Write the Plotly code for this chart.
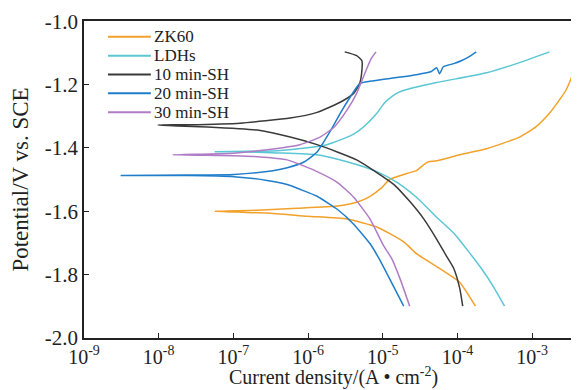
import plotly.graph_objects as go

# ---- data: log10 of current density (A/cm^2) and potential (V vs. SCE) ----
series_names = ["ZK60", "LDHs", "10 min-SH", "20 min-SH", "30 min-SH"]
series_colors = ["#F2A12B", "#5BC6D4", "#3A3A3A", "#1F7DCA", "#B07CC6"]

zk60_logi = [-3.76, -3.97, -4.28, -4.55, -4.72, -5.08, -5.48, -6.01, -6.55, -6.95, -7.25,
             -6.68, -6.15, -5.61, -5.35, -5.17, -5.01, -4.91, -4.68, -4.55, -4.45, -4.39,
             -4.28, -3.97, -3.61, -3.17, -2.95, -2.77, -2.64, -2.55, -2.45, -2.36]
zk60_E = [-1.900, -1.825, -1.775, -1.734, -1.697, -1.650, -1.625, -1.616, -1.606, -1.603, -1.600,
          -1.597, -1.591, -1.584, -1.572, -1.553, -1.525, -1.500, -1.481, -1.472, -1.453, -1.444,
          -1.441, -1.422, -1.403, -1.366, -1.334, -1.291, -1.250, -1.219, -1.163, -1.097]

ldhs_logi = [-3.37, -3.52, -3.68, -4.04, -4.28, -4.55, -4.81, -5.08, -5.48, -5.88, -6.41, -6.95, -7.25,
             -6.81, -6.41, -6.01, -5.75, -5.57, -5.41, -5.31, -5.19, -5.08, -4.97, -4.88, -4.79,
             -4.68, -4.28, -3.61, -3.17, -2.77]
ldhs_E = [-1.900, -1.838, -1.781, -1.672, -1.619, -1.556, -1.509, -1.475, -1.444, -1.422, -1.416, -1.4125, -1.4125,
          -1.411, -1.409, -1.400, -1.390, -1.375, -1.359, -1.344, -1.319, -1.291, -1.256, -1.238, -1.225,
          -1.216, -1.194, -1.163, -1.131, -1.097]

sh10_logi = [-3.93, -3.97, -4.05, -4.15, -4.28, -4.45, -4.64, -4.85, -5.08, -5.35, -5.61, -5.88, -6.24,
             -6.68, -7.35, -7.75, -8.01,
             -7.61, -6.91, -6.24, -5.88, -5.57, -5.39, -5.31, -5.28, -5.28, -5.35, -5.51]
sh10_E = [-1.900, -1.844, -1.781, -1.741, -1.688, -1.625, -1.569, -1.516, -1.478, -1.438, -1.413, -1.390, -1.366,
          -1.344, -1.334, -1.331, -1.328,
          -1.327, -1.322, -1.306, -1.288, -1.256, -1.228, -1.197, -1.156, -1.125, -1.109, -1.097]

sh20_logi = [-4.72, -4.91, -5.05, -5.17, -5.39, -5.61, -5.88, -6.11, -6.28, -6.55, -6.99, -7.61, -8.51,
             -7.61, -6.99, -6.55, -6.28, -6.05, -5.88, -5.79, -5.68, -5.57, -5.44, -5.31, -5.12,
             -4.81, -4.55, -4.35, -4.28, -4.24, -4.19, -4.05, -3.95, -3.85, -3.75]
sh20_E = [-1.900, -1.813, -1.750, -1.703, -1.641, -1.594, -1.553, -1.531, -1.516, -1.503, -1.491, -1.4875, -1.4875,
          -1.486, -1.484, -1.475, -1.463, -1.444, -1.413, -1.381, -1.338, -1.291, -1.241, -1.197, -1.188,
          -1.178, -1.169, -1.159, -1.147, -1.166, -1.144, -1.134, -1.125, -1.113, -1.097]

sh30_logi = [-4.64, -4.77, -4.88, -4.99, -5.17, -5.39, -5.61, -5.88, -6.28, -6.68, -6.99, -7.81,
             -6.99, -6.55, -6.11, -5.84, -5.65, -5.48, -5.35, -5.28, -5.21, -5.15, -5.09]
sh30_E = [-1.900, -1.813, -1.750, -1.709, -1.625, -1.556, -1.509, -1.475, -1.438, -1.428, -1.425, -1.422,
          -1.417, -1.406, -1.390, -1.366, -1.334, -1.281, -1.228, -1.188, -1.147, -1.116, -1.097]

x_tick_exponents = [-9, -8, -7, -6, -5, -4, -3]
y_tick_values = [-2.0, -1.8, -1.6, -1.4, -1.2, -1.0]
y_tick_labels = ["-2.0", "-1.8", "-1.6", "-1.4", "-1.2", "-1.0"]
x_title = "Current density/(A • cm<sup>-2</sup>)"
y_title = "Potential/V vs. SCE"

all_logi = [zk60_logi, ldhs_logi, sh10_logi, sh20_logi, sh30_logi]
all_E = [zk60_E, ldhs_E, sh10_E, sh20_E, sh30_E]

FONT = "Liberation Serif, Times New Roman, serif"
TXT = "#222222"

fig = go.Figure()
for name, color, li, e in zip(series_names, series_colors, all_logi, all_E):
    fig.add_trace(go.Scatter(
        x=[10 ** v for v in li], y=e, mode="lines", name=name,
        line=dict(color=color, width=1.5, shape="spline", smoothing=0.5),
        showlegend=False,
    ))

# hand-placed legend (tight line spacing as in the reference)
leg_y = [0.950, 0.8906, 0.8312, 0.7718, 0.7124]
for name, color, yy in zip(series_names, series_colors, leg_y):
    fig.add_shape(type="line", xref="paper", yref="paper",
                  x0=0.048, x1=0.134, y0=yy, y1=yy,
                  line=dict(color=color, width=2))
    fig.add_annotation(text=name, xref="paper", yref="paper", x=0.136, y=yy,
                       xanchor="left", yanchor="middle", showarrow=False,
                       font=dict(family=FONT, size=17, color=TXT))

# x-axis title placed explicitly so it sits fully inside the page
fig.add_annotation(text=x_title, xref="paper", yref="paper", x=0.5, y=-0.122,
                   xanchor="center", yanchor="middle", showarrow=False,
                   font=dict(family=FONT, size=20, color=TXT))

fig.update_layout(
    width=579, height=390,
    margin=dict(l=76, r=2, t=10, b=60),
    paper_bgcolor="white", plot_bgcolor="white",
    font=dict(family=FONT, size=19, color=TXT),
)
fig.update_xaxes(
    type="log", range=[-9, -2.32],
    tickvals=[10 ** v for v in x_tick_exponents],
    ticktext=["10<sup>%d</sup>" % v for v in x_tick_exponents],
    tickfont=dict(family=FONT, size=20, color=TXT),
    ticks="inside", ticklen=5, tickcolor=TXT,
    showline=True, linecolor=TXT, linewidth=1.5, mirror=True,
    showgrid=False, zeroline=False,
)
fig.update_yaxes(
    range=[-2.0005, -0.9995],
    tickvals=y_tick_values, ticktext=y_tick_labels,
    tickfont=dict(family=FONT, size=21, color=TXT),
    ticklabeloverflow="allow",
    ticks="inside", ticklen=5, tickcolor=TXT,
    showline=True, linecolor=TXT, linewidth=1.5, mirror=True,
    showgrid=False, zeroline=False,
    title=dict(text=y_title, font=dict(family=FONT, size=23, color=TXT), standoff=12),
)

fig.write_html("out.html")
